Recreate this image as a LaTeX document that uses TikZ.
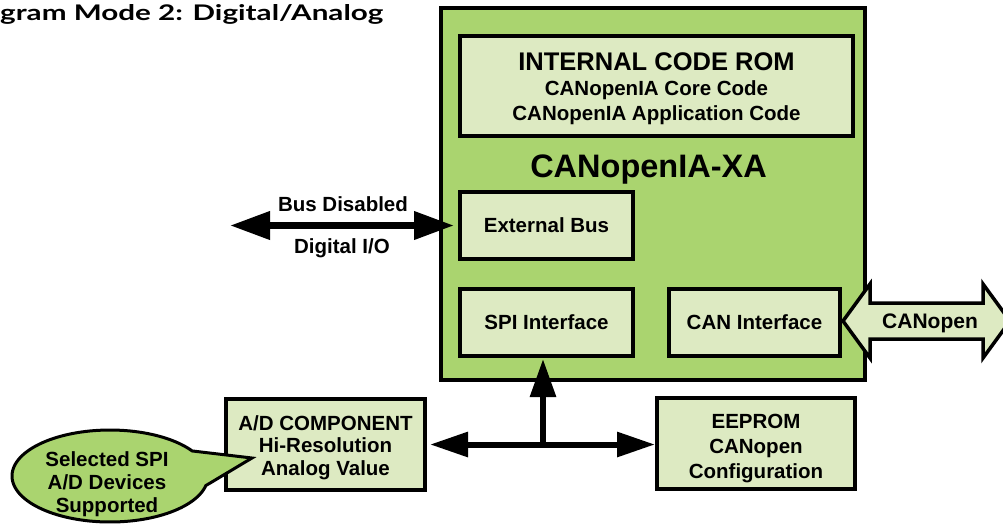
\documentclass[tikz,border=0pt]{standalone}
\usepackage{fontspec}
\setmainfont{Liberation Sans}
\newfontfamily\titlefont{Lato}
\usetikzlibrary{arrows.meta}
\definecolor{chipgreen}{HTML}{AAD46F}
\definecolor{boxgreen}{HTML}{DDEAC2}
\newcommand{\fsz}[2]{\fontsize{#1}{#2}\selectfont}
\begin{document}
\begin{tikzpicture}[x=1pt,y=-1pt,
  chipbox/.style={draw, line width=3.3pt, fill=chipgreen, inner sep=0pt},
  inbox/.style={draw, line width=4pt, fill=boxgreen, align=center, font=\bfseries\fsz{20.5}{24}, inner sep=0pt},
  boxtext/.style={align=center, inner sep=0pt},
  lbl/.style={font=\bfseries\fsz{20.5}{24}, inner sep=0pt, anchor=base},
  busarrow/.style={line width=6pt, {Triangle[length=38pt,width=24pt]}-{Triangle[length=38pt,width=24pt]}},
  busuparrow/.style={line width=6pt, -{Triangle[length=38pt,width=25pt]}},
  dioarrow/.style={line width=7pt, {Triangle[length=40pt,width=27pt]}-{Triangle[length=40pt,width=27pt]}},
  canarrow/.style={draw, line width=3.5pt, fill=boxgreen, line join=miter},
  callout/.style={draw, line width=3pt, fill=chipgreen, line join=miter}
]
\useasboundingbox (0,0) rectangle (1003,523);
\clip (0,0) rectangle (1003,523);

\node[anchor=base west, inner sep=0pt] (title) at (0,20)
  {\resizebox{383pt}{16pt}{\titlefont\bfseries gram Mode 2: Digital/Analog}};

\node[chipbox, minimum width=424pt, minimum height=372pt] (chip) at (653,194) {};
\node[inbox, minimum width=393pt, minimum height=100pt] (rom) at (656.5,86) {};
\node[boxtext, font=\bfseries\fsz{20.5}{25}] (romtext) at (656.5,88.5)
  {{\fsz{25.5}{25}INTERNAL CODE ROM}\\CANopenIA Core Code\\CANopenIA Application Code};
\node[lbl, font=\bfseries\fsz{32.5}{36}] (xa) at (648.5,177) {CANopenIA-XA};
\node[inbox, minimum width=173pt, minimum height=67pt] (ext) at (546.5,225.5) {\raisebox{-1.5pt}{External Bus}};
\node[inbox, minimum width=173pt, minimum height=67pt] (spi) at (546.5,322.5) {\raisebox{-1pt}{SPI Interface}};
\node[inbox, minimum width=171pt, minimum height=67pt] (can) at (754.5,322.5) {\raisebox{-1pt}{CAN Interface}};

\draw[canarrow] (843,321) -- (870,284) -- (870,303) -- (983,303) -- (983,284) -- (1010,321)
  -- (983,358) -- (983,339) -- (870,339) -- (870,358) -- cycle;
\node[lbl, font=\bfseries\fsz{21}{24}] (canopen) at (930,328) {CANopen};

\node[inbox, minimum width=199pt, minimum height=91pt] (ad) at (325.5,444.5) {};
\node[boxtext, font=\bfseries\fsz{20.5}{22.5}] (adtext) at (325.5,447.5)
  {A/D COMPONENT\\Hi-Resolution\\Analog Value};
\node[inbox, minimum width=198pt, minimum height=91pt] (eeprom) at (756,443.5) {};
\node[boxtext, font=\bfseries\fsz{20.5}{25}] (eetext) at (756,448.5)
  {EEPROM\\CANopen\\Configuration};

\draw[busarrow, shorten <=3pt, shorten >=0pt] (ad.east) -- (ad.east -| eeprom.west);
\coordinate (junc) at (543,444.5);
\draw[busuparrow, shorten >=1pt] (junc) -- (junc |- spi.south);

\coordinate (busleft) at (230,225.5);
\draw[dioarrow, shorten >=4pt] (busleft) -- (ext.west);
\node[lbl] (busdis) at (343,211) {Bus Disabled};
\node[lbl] (dio) at (342,253) {Digital I/O};

\path[callout] plot[domain=33:348, samples=120] ({110+98*cos(\x)}, {476-46*sin(\x)}) -- (252,458) -- cycle;
\node[font=\bfseries\fsz{20.5}{23}, align=center, inner sep=0pt] (calltext) at (107,484)
  {Selected SPI\\A/D Devices\\Supported};
\end{tikzpicture}
\end{document}
